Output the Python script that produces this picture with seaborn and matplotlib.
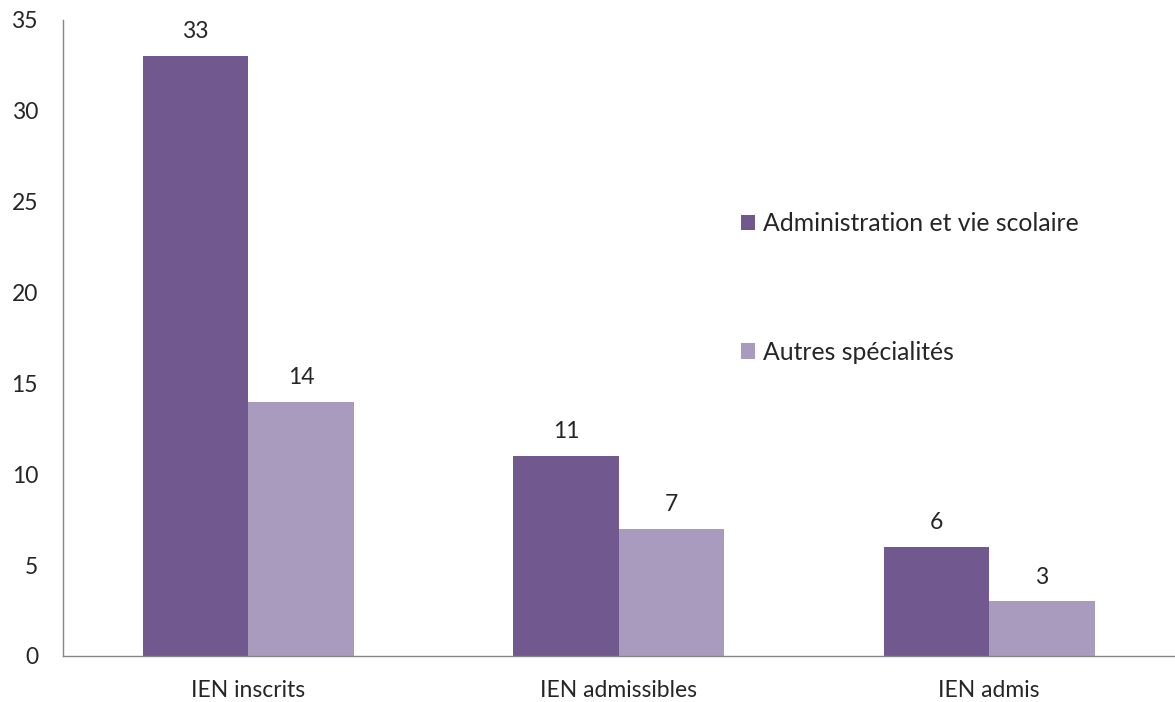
import matplotlib
matplotlib.use("Agg")
import matplotlib.pyplot as plt
import pandas as pd
import seaborn as sns

# Données du graphique
categories = ["IEN inscrits", "IEN admissibles", "IEN admis"]
series = ["Administration et vie scolaire", "Autres spécialités"]
admin_vie_scolaire = [33, 11, 6]
autres_specialites = [14, 7, 3]
couleurs = ["#71588F", "#A99BBD"]

df = pd.DataFrame({
    "categorie": categories * 2,
    "serie": [series[0]] * 3 + [series[1]] * 3,
    "valeur": admin_vie_scolaire + autres_specialites,
})

sns.set_style("white")
plt.rcParams["font.family"] = ["Lato", "DejaVu Sans"]

fig = plt.figure(figsize=(11.75, 7.02), dpi=100)
ax = fig.add_axes([63 / 1175, 1 - 656 / 702, 1 - 63 / 1175 - 0.5 / 1175, (656 - 20) / 702])

sns.barplot(data=df, x="categorie", y="valeur", hue="serie", palette=couleurs,
            width=0.57, saturation=1, ax=ax, edgecolor="none")

for c in ax.containers:
    ax.bar_label(c, padding=10, fontsize=16.5)

ax.set_ylim(0, 35)
ax.set_xlim(-0.5, 2.5)
ax.set_yticks(range(0, 36, 5))
ax.set_xlabel("")
ax.set_ylabel("")

# Graduations de l'axe des x aux limites des catégories
ax.set_xticks([-0.5, 0.5, 1.5, 2.5], minor=True)
ax.tick_params(axis="x", which="major", length=0, pad=17, labelsize=16.5)
ax.tick_params(axis="x", which="minor", length=6, width=1, color="#868686", direction="out")
ax.tick_params(axis="y", length=6, width=1, color="#868686", direction="out", pad=12, labelsize=16.5)

for s in ["top", "right"]:
    ax.spines[s].set_visible(False)
for s in ["left", "bottom"]:
    ax.spines[s].set_color("#868686")
    ax.spines[s].set_linewidth(1)

ax.legend(loc="upper left", bbox_to_anchor=(0.59, 0.733), frameon=False,
          fontsize=17.8, labelspacing=4.27, handlelength=0.57, handleheight=0.57,
          handletextpad=0.3)

plt.savefig("out.png", dpi=100)
